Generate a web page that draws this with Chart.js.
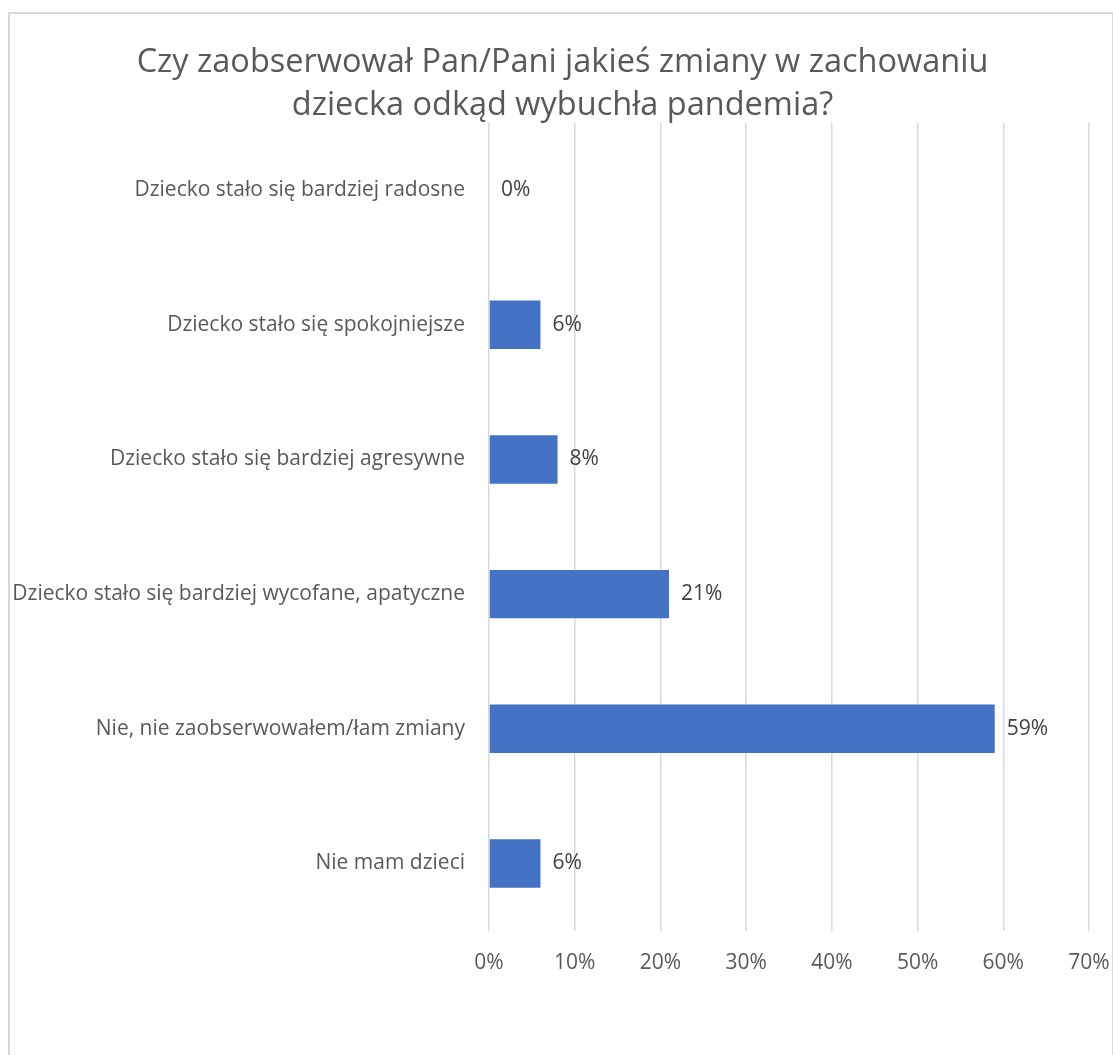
<!DOCTYPE html>
<html>
<head>
<meta charset="utf-8">
<script src="https://cdn.jsdelivr.net/npm/chart.js@4"></script>
<style>
  body { margin: 0; background: #fff; }
  .ramka {
    position: absolute;
    left: 8px;
    top: 12px;
    width: 1106px;
    height: 1060px;
    border: 2px solid #d9d9d9;
    box-sizing: border-box;
  }
</style>
</head>
<body>
<div class="ramka"><canvas id="wykres"></canvas></div>
<script>
// dane
const kategorie = [
  "Dziecko stało się bardziej radosne",
  "Dziecko stało się spokojniejsze",
  "Dziecko stało się bardziej agresywne",
  "Dziecko stało się bardziej wycofane, apatyczne",
  "Nie, nie zaobserwowałem/łam zmiany",
  "Nie mam dzieci"
];
const wartosci = [0, 6, 8, 21, 59, 6];
const osX = [0, 10, 20, 30, 40, 50, 60, 70];

const szary = "#595959";

// etykiety z wartością przy słupkach
const etykiety = {
  id: "etykiety",
  afterDatasetsDraw(chart) {
    const ctx = chart.ctx;
    const meta = chart.getDatasetMeta(0);
    ctx.save();
    ctx.font = "21px 'Open Sans'";
    ctx.fillStyle = "#404040";
    ctx.textAlign = "left";
    ctx.textBaseline = "middle";
    meta.data.forEach((bar, i) => {
      ctx.fillText(wartosci[i] + "%", bar.x + 12, bar.y);
    });
    ctx.restore();
  }
};

new Chart(document.getElementById("wykres"), {
  type: "bar",
  data: {
    labels: kategorie,
    datasets: [{
      data: wartosci,
      backgroundColor: "#4472C4",
      borderWidth: 0,
      categoryPercentage: 1,
      barPercentage: 0.36
    }]
  },
  options: {
    indexAxis: "y",
    responsive: true,
    maintainAspectRatio: false,
    animation: false,
    layout: {
      padding: { top: 27, right: 0, bottom: 74, left: 3 }
    },
    plugins: {
      legend: { display: false },
      tooltip: { enabled: false },
      title: {
        display: true,
        text: ["Czy zaobserwował Pan/Pani jakieś zmiany w zachowaniu", "dziecka odkąd wybuchła pandemia?"],
        color: szary,
        font: { family: "'Open Sans'", size: 32.5, weight: "normal", lineHeight: 1.32 },
        padding: { top: 0, bottom: -4 }
      }
    },
    scales: {
      x: {
        min: osX[0],
        max: osX[osX.length - 1],
        afterBuildTicks: (axis) => {
          axis.ticks = osX.map(v => ({ value: v }));
        },
        afterFit: (axis) => {
          axis.paddingLeft = 0;
          axis.paddingRight = 23;
        },
        grid: { color: "#d9d9d9", lineWidth: 1.5, drawTicks: false },
        border: { display: false },
        ticks: {
          color: szary,
          padding: 20,
          font: { family: "'Open Sans'", size: 21 },
          callback: (v) => v + "%"
        }
      },
      y: {
        afterFit: (axis) => {
          axis.width = 476;
        },
        grid: { display: false, drawTicks: false },
        border: { display: false },
        ticks: {
          color: szary,
          padding: 24,
          font: { family: "'Open Sans'", size: 21 }
        }
      }
    }
  },
  plugins: [etykiety]
});
</script>
</body>
</html>
